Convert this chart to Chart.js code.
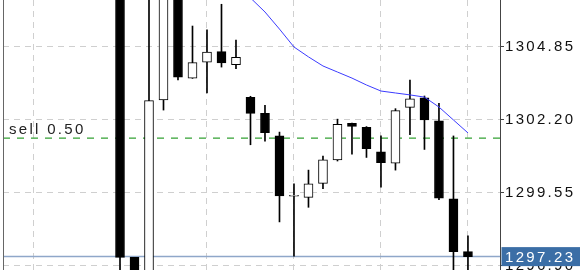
<!DOCTYPE html>
<html>
<head>
<meta charset="utf-8">
<script src="https://cdn.jsdelivr.net/npm/chart.js@4"></script>
<style>
  html, body { margin: 0; padding: 0; background: #fff; }
  canvas { display: block; }
</style>
</head>
<body>
<canvas id="chart" width="580" height="270"></canvas>
<script>
// candle slots, oldest first
const candles = [0, 1, 2, 3, 4, 5, 6, 7, 8, 9, 10, 11, 12, 13, 14, 15, 16, 17, 18, 19, 20, 21, 22, 23, 24];
const opens  = [1310.20, 1297.20, 1296.30, 1302.92, 1307.40, 1303.71, 1304.29, 1304.67, 1304.20, 1303.01, 1302.43, 1301.61, 1299.42,
                1299.38, 1299.89, 1300.74, 1302.07, 1301.92, 1301.03, 1300.62, 1302.65, 1302.99, 1302.16, 1299.33, 1297.41];
const highs  = [1310.80, 1297.20, 1307.60, 1307.80, 1307.60, 1305.60, 1305.46, 1306.39, 1305.09, 1303.05, 1302.72, 1301.75, 1299.87,
                1300.37, 1300.88, 1302.22, 1302.08, 1301.95, 1301.61, 1302.60, 1303.64, 1303.06, 1302.79, 1301.61, 1297.98];
const lows   = [1296.40, 1296.00, 1296.10, 1302.55, 1303.64, 1303.70, 1303.17, 1304.11, 1304.05, 1301.29, 1301.42, 1298.49, 1297.25,
                1299.02, 1299.70, 1300.70, 1300.95, 1300.83, 1299.75, 1300.37, 1301.66, 1301.12, 1299.30, 1296.50, 1296.60];
const closes = [1297.20, 1296.30, 1302.89, 1307.40, 1303.74, 1304.27, 1304.65, 1304.26, 1304.46, 1302.43, 1301.73, 1299.43, 1299.45,
                1299.87, 1300.74, 1302.03, 1301.96, 1301.15, 1300.64, 1302.53, 1302.96, 1302.19, 1299.35, 1297.41, 1297.23];
const maValues = [null, null, null, null, null, null, null, null, 1307.16, 1306.62, 1306.11, 1305.49, 1304.84,
                  1304.48, 1304.15, 1303.93, 1303.71, 1303.46, 1303.24, 1303.17, 1303.10, 1303.02, 1302.66, 1302.19, 1301.72];
const priceTicks = [1296.90, 1299.55, 1302.20, 1304.85];
const sellPrice = 1301.53;
const sellLabel = "sell 0.50";
const lastPrice = 1297.23;

const font = '"Liberation Sans", Arial, sans-serif';

const overlay = {
  id: "overlay",
  beforeDraw(chart) {
    chart.ctx.letterSpacing = "2.3px";
  },
  beforeDatasetsDraw(chart) {
    const { ctx, chartArea: a, scales: { y } } = chart;
    ctx.save();
    const ys = y.getPixelForValue(sellPrice);
    ctx.strokeStyle = "#55b155";
    ctx.lineWidth = 1.5;
    ctx.setLineDash([7, 7]);
    ctx.beginPath();
    ctx.moveTo(a.left, ys);
    ctx.lineTo(a.right, ys);
    ctx.stroke();
    ctx.setLineDash([]);

    const yp = y.getPixelForValue(lastPrice);
    ctx.strokeStyle = "#8fa7c9";
    ctx.lineWidth = 1.5;
    ctx.beginPath();
    ctx.moveTo(a.left, yp);
    ctx.lineTo(a.right, yp);
    ctx.stroke();
    ctx.restore();
  },
  afterDraw(chart) {
    const { ctx, chartArea: a, scales: { y } } = chart;
    ctx.save();
    ctx.letterSpacing = "2.3px";
    // left frame
    ctx.strokeStyle = "#666";
    ctx.lineWidth = 1;
    ctx.beginPath();
    ctx.moveTo(a.left + 0.5, a.top);
    ctx.lineTo(a.left + 0.5, a.bottom);
    ctx.stroke();

    ctx.font = "15px " + font;
    ctx.fillStyle = "#222";
    ctx.textBaseline = "alphabetic";
    ctx.fillText(sellLabel, a.left + 6, y.getPixelForValue(sellPrice) - 4);

    const yp = y.getPixelForValue(lastPrice);
    ctx.fillStyle = "#3b6ea6";
    ctx.fillRect(a.right + 1.5, yp - 9.5, 80, 19);
    ctx.fillStyle = "#fff";
    ctx.textBaseline = "middle";
    ctx.fillText(lastPrice.toFixed(2), a.right + 5, yp + 1);
    ctx.restore();
  }
};

new Chart(document.getElementById("chart"), {
  type: "bar",
  data: {
    datasets: [
      {
        type: "line",
        data: candles.filter(i => maValues[i] !== null).map(i => ({ x: i, y: maValues[i] })),
        borderColor: "#3c3cff",
        borderWidth: 1,
        pointRadius: 0,
        tension: 0,
        order: 0,
      },
      {
        data: candles.map(i => ({ x: i, y: [opens[i], closes[i]] })),
        backgroundColor: candles.map(i => (closes[i] >= opens[i] ? "#fff" : "#000")),
        borderColor: "#000",
        borderWidth: 1,
        borderSkipped: false,
        barThickness: 9,
        minBarLength: 1,
        grouped: false,
        order: 1,
      },
      {
        data: candles.map(i => ({ x: i, y: [lows[i], highs[i]] })),
        backgroundColor: "#000",
        borderWidth: 0,
        barThickness: 1,
        grouped: false,
        order: 2,
      },
    ],
  },
  options: {
    responsive: false,
    animation: false,
    devicePixelRatio: 1,
    events: [],
    layout: { padding: { left: 3, right: 0, top: 0, bottom: 0 } },
    plugins: { legend: { display: false }, tooltip: { enabled: false } },
    scales: {
      x: {
        type: "linear",
        offset: false,
        min: -8.07,
        max: 26.21,
        ticks: { display: false, stepSize: 6, includeBounds: false },
        grid: { color: "#cfcfcf", drawTicks: false, offset: false },
        border: { display: false, dash: [6, 5] },
        afterFit: s => {
          s.height = 0;
          s.paddingLeft = 0;
          s.paddingRight = 0;
        },
      },
      y: {
        position: "right",
        min: 1296.744,
        max: 1306.545,
        afterBuildTicks: s => {
          s.ticks = priceTicks.map(v => ({ value: v }));
        },
        afterFit: s => {
          s.width = 80;
          s.paddingTop = 0;
          s.paddingBottom = 0;
        },
        ticks: {
          color: "#111",
          font: { family: font, size: 15 },
          padding: 1,
          autoSkip: false,
          callback: v => Number(v).toFixed(2),
        },
        grid: { color: "#cfcfcf", tickColor: "#444", tickLength: 4 },
        border: { color: "#444", dash: [6, 5] },
      },
    },
  },
  plugins: [overlay],
});
</script>
</body>
</html>
